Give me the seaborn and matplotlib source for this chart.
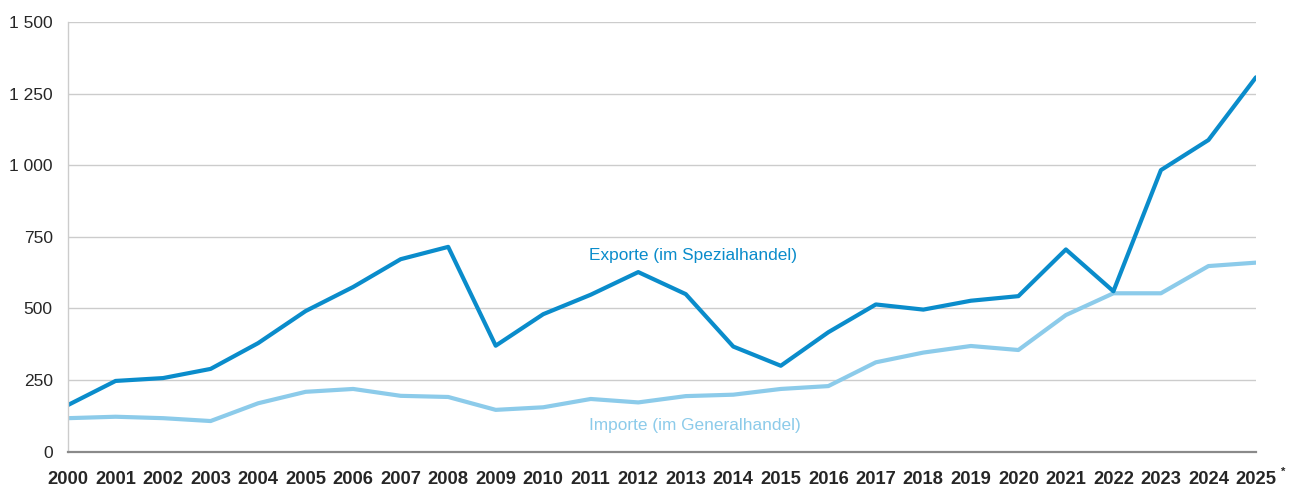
import pandas as pd
import matplotlib.pyplot as plt
import seaborn as sns

# Values
years = list(range(2000, 2026))
exporte = [163, 247, 257, 289, 379, 491, 575, 672, 715, 370, 480, 548, 627, 550,
           367, 300, 417, 514, 496, 527, 543, 706, 560, 983, 1088, 1307]
importe = [117, 122, 117, 107, 169, 209, 219, 195, 191, 146, 155, 184, 172, 194,
           199, 219, 229, 312, 346, 369, 355, 477, 553, 553, 648, 660]
y_ticks = [0, 250, 500, 750, 1000, 1250, 1500]

export_color = '#0a8ccb'
import_color = '#8ccbea'

sns.set_style("white")
plt.rcParams['font.family'] = ['Liberation Sans', 'DejaVu Sans']

df = pd.DataFrame({'Jahr': years, 'Exporte': exporte, 'Importe': importe})

fig = plt.figure(figsize=(12.94, 4.86), dpi=100)
ax = fig.add_axes([0.0526, 0.0706, 0.9180, 0.8841])

sns.lineplot(data=df, x='Jahr', y='Importe', color=import_color, linewidth=3.0, ax=ax)
sns.lineplot(data=df, x='Jahr', y='Exporte', color=export_color, linewidth=3.0, ax=ax)

ax.set_xlim(2000, 2025)
ax.set_ylim(0, 1500)
ax.set_xlabel('')
ax.set_ylabel('')

# gridlines
ax.set_yticks(y_ticks)
ax.set_yticklabels([f"{v:,}".replace(",", " ") for v in y_ticks], fontsize=12.5)
ax.yaxis.grid(True, color='#cccccc', linewidth=1.0)
ax.set_axisbelow(True)
ax.tick_params(axis='y', length=7, width=1.0, color='#cccccc', pad=4)

ax.set_xticks(years)
ax.set_xticklabels([str(y) for y in years], fontsize=13.2, fontweight='bold')
ax.tick_params(axis='x', length=6, width=1.0, color='#bbbbbb', pad=8)

for s in ['top', 'right']:
    ax.spines[s].set_visible(False)
ax.spines['left'].set_color('#cccccc')
ax.spines['left'].set_linewidth(1.0)
ax.spines['bottom'].set_color('#8a8a8a')
ax.spines['bottom'].set_linewidth(1.6)

# series labels
ax.text(2010.97, 686, 'Exporte (im Spezialhandel)', color=export_color,
        fontsize=12.4, va='center', ha='left')
ax.text(2010.97, 93, 'Importe (im Generalhandel)', color=import_color,
        fontsize=12.4, va='center', ha='left')

# footnote marker on 2025
ax.annotate('*', xy=(2025, 0), xytext=(18, -11), textcoords='offset points',
            fontsize=8, fontweight='bold', ha='left', va='top', annotation_clip=False)

fig.savefig('out.png', dpi=100)
